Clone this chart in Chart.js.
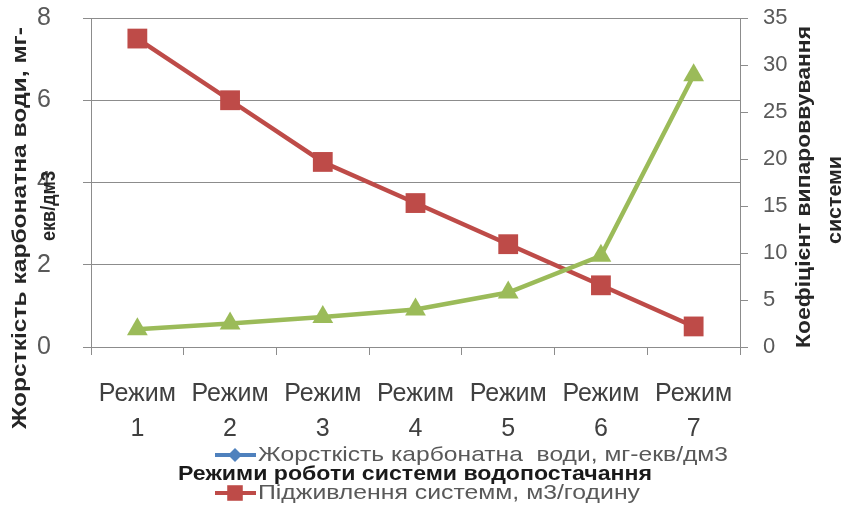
<!DOCTYPE html>
<html>
<head>
<meta charset="utf-8">
<script src="https://cdn.jsdelivr.net/npm/chart.js@4.4.1/dist/chart.umd.min.js"></script>
<style>
  body { margin: 0; background: #fff; }
  canvas { display: block; }
</style>
</head>
<body>
<canvas id="regimeChart" width="848" height="505"></canvas>
<script>
// Режими роботи та виміряні величини
const modes = ["1", "2", "3", "4", "5", "6", "7"];
const hardness = [];                                     // жорсткість (легенда)
const feed = [7.5, 6.0, 4.5, 3.5, 2.5, 1.5, 0.5];         // підживлення, ліва вісь
const evaporation = [1.9, 2.5, 3.2, 4.0, 5.8, 9.7, 28.9]; // коеф. випаровування, права вісь
const leftTicks = [0, 2, 4, 6, 8];
const rightTicks = [0, 5, 10, 15, 20, 25, 30, 35];

const axisColor = "#8c8c8c";
const textColor = "#404040";
const family = "'Liberation Sans', Arial, sans-serif";

// малюємо текст, стиснутий/розтягнутий до заданої ширини
const fitText = (ctx, text, x, y, width, font, color, angle) => {
  ctx.save();
  ctx.font = font;
  ctx.fillStyle = color;
  ctx.textAlign = "center";
  ctx.textBaseline = "middle";
  ctx.translate(x, y);
  if (angle) ctx.rotate(angle);
  const w = ctx.measureText(text).width;
  ctx.scale(width / w, 1);
  ctx.fillText(text, 0, 0);
  ctx.restore();
};

const titlesAndLegend = {
  id: "titlesAndLegend",
  afterDraw(chart) {
    const ctx = chart.ctx;
    const bold = "bold 20px " + family;
    const reg = "21px " + family;

    // заголовок лівої осі
    fitText(ctx, "Жорсткість карбонатна води, мг-", 20, 228, 402, bold, "#262626", -Math.PI / 2);
    fitText(ctx, "екв/дм3", 49, 206, 70, "bold 21px " + family, "#262626", -Math.PI / 2);

    // заголовок правої осі
    fitText(ctx, "Коефіцієнт випароввування", 804, 187, 322, bold, "#262626", -Math.PI / 2);
    fitText(ctx, "системи", 835, 200, 88, bold, "#262626", -Math.PI / 2);

    // легенда (перші дві серії)
    const entries = chart.data.datasets.slice(0, 2);
    const rows = [455, 493];
    const widths = [470, 382];
    entries.forEach((ds, i) => {
      const y = rows[i];
      ctx.save();
      ctx.strokeStyle = ds.borderColor;
      ctx.lineWidth = 4;
      ctx.beginPath();
      ctx.moveTo(215, y);
      ctx.lineTo(256, y);
      ctx.stroke();
      ctx.fillStyle = ds.backgroundColor;
      Chart.helpers.drawPoint(ctx, {
        pointStyle: ds.pointStyle,
        radius: ds.legendRadius,
        borderWidth: 0
      }, 235, y);
      ctx.restore();
      fitText(ctx, ds.label, 258 + widths[i] / 2, y, widths[i], reg, "#595959");
    });

    // назва осі X
    fitText(ctx, "Режими роботи системи водопостачання", 415, 474, 474, bold, "#1a1a1a");
  }
};

const ctx = document.getElementById("regimeChart").getContext("2d");
new Chart(ctx, {
  type: "line",
  data: {
    labels: modes.map((m) => ["Режим", m]),
    datasets: [
      {
        label: "Жорсткість карбонатна  води, мг-екв/дм3",
        data: hardness,
        borderColor: "#4f81bd",
        backgroundColor: "#4f81bd",
        pointStyle: "rectRot",
        legendRadius: 7,
        yAxisID: "y",
        order: 3
      },
      {
        label: "Підживлення системм, м3/годину",
        data: feed,
        borderColor: "#be4b48",
        backgroundColor: "#be4b48",
        borderWidth: 4.5,
        pointStyle: "rect",
        pointRadius: 14,
        pointBorderWidth: 0,
        legendRadius: 11,
        yAxisID: "y",
        order: 2
      },
      {
        label: "Коефіцієнт випаровування системи",
        data: evaporation,
        borderColor: "#9bbb59",
        backgroundColor: "#9bbb59",
        borderWidth: 4.5,
        pointStyle: "triangle",
        pointRadius: 12,
        pointBorderWidth: 0,
        yAxisID: "y1",
        order: 1
      }
    ]
  },
  options: {
    responsive: false,
    animation: false,
    layout: {
      padding: { top: 18, right: 48, bottom: 10, left: 37 }
    },
    plugins: {
      legend: { display: false },
      tooltip: { enabled: false }
    },
    scales: {
      x: {
        offset: true,
        grid: { offset: true, drawOnChartArea: false, tickLength: 8, color: axisColor },
        border: { color: axisColor },
        ticks: {
          color: textColor,
          padding: 22,
          maxRotation: 0,
          font: { family: family, size: 25, lineHeight: 1.4 }
        },
        afterFit: (s) => { s.height = 148; }
      },
      y: {
        position: "left",
        min: leftTicks[0],
        max: leftTicks[leftTicks.length - 1],
        afterBuildTicks: (s) => { s.ticks = leftTicks.map((v) => ({ value: v })); },
        grid: { color: axisColor, tickLength: 8 },
        border: { color: axisColor },
        ticks: {
          color: "#595959",
          padding: 0,
          crossAlign: "far",
          font: { family: family, size: 25, lineHeight: 0.2 }
        },
        afterFit: (s) => { s.width = 54; }
      },
      y1: {
        position: "right",
        min: rightTicks[0],
        max: rightTicks[rightTicks.length - 1],
        afterBuildTicks: (s) => { s.ticks = rightTicks.map((v) => ({ value: v })); },
        grid: { drawOnChartArea: false, color: axisColor, tickLength: 8 },
        border: { color: axisColor },
        ticks: {
          color: "#595959",
          padding: 15,
          font: { family: family, size: 22, lineHeight: 0.2 }
        },
        afterFit: (s) => { s.width = 60; }
      }
    }
  },
  plugins: [titlesAndLegend]
});
</script>
</body>
</html>
